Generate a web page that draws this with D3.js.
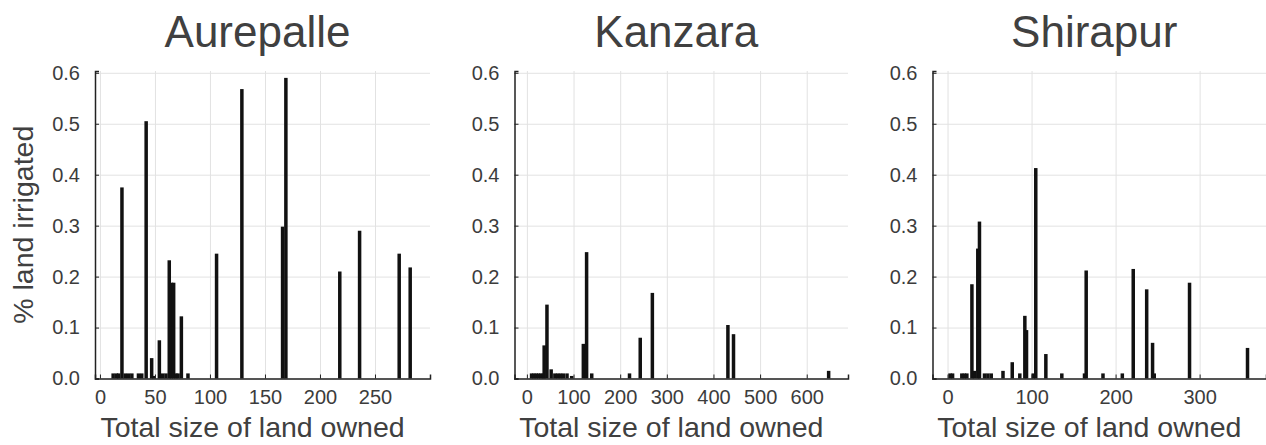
<!DOCTYPE html>
<html>
<head>
<meta charset="utf-8">
<script src="https://cdn.jsdelivr.net/npm/d3@7"></script>
<style>
  body { margin: 0; background: #fff; }
  svg { display: block; font-family: "Liberation Sans", Arial, sans-serif; }
  .grid line { stroke: #e2e2e2; stroke-width: 1; }
  .grid path { display: none; }
  .tick text { fill: #3c3c3c; }
</style>
</head>
<body>
<svg id="chart" width="1266" height="445"></svg>
<script>
// [land owned, share irrigated]
const aurepalle = [
  [12, 0.01], [15, 0.01], [17, 0.01], [20, 0.375], [23, 0.01], [26, 0.01], [29, 0.01],
  [35, 0.01], [38, 0.01], [42, 0.505], [47, 0.04], [49, 0.005], [54, 0.075], [57, 0.01],
  [60, 0.01], [63, 0.232], [65, 0.188], [67, 0.188], [69, 0.01], [71, 0.01], [74, 0.122],
  [80, 0.01], [106, 0.245], [129, 0.568], [166, 0.298], [169, 0.59], [218, 0.21],
  [236, 0.29], [272, 0.245], [282, 0.218]
];
const kanzara = [
  [10, 0.01], [15, 0.01], [20, 0.01], [25, 0.01], [30, 0.01], [35, 0.01], [37, 0.065],
  [43, 0.145], [52, 0.018], [60, 0.01], [66, 0.01], [72, 0.01], [78, 0.01], [86, 0.01],
  [96, 0.005], [121, 0.068], [128, 0.248], [139, 0.01], [220, 0.01], [243, 0.08],
  [269, 0.168], [431, 0.105], [443, 0.087], [647, 0.015]
];
const shirapur = [
  [3, 0.01], [6, 0.01], [17, 0.01], [20, 0.01], [23, 0.01], [29, 0.185], [32, 0.015],
  [36, 0.255], [38, 0.308], [44, 0.01], [48, 0.01], [52, 0.01], [66, 0.015], [77, 0.032],
  [86, 0.01], [92, 0.123], [94, 0.095], [102, 0.01], [105, 0.413], [117, 0.048],
  [136, 0.01], [163, 0.01], [165, 0.212], [185, 0.01], [208, 0.01], [221, 0.215],
  [237, 0.175], [244, 0.07], [246, 0.01], [288, 0.188], [357, 0.06]
];

const titles = ["Aurepalle", "Kanzara", "Shirapur"];
const xTicksA = [0, 50, 100, 150, 200, 250];
const xTicksK = [0, 100, 200, 300, 400, 500, 600];
const xTicksS = [0, 100, 200, 300];
const yTicks = [0, 0.1, 0.2, 0.3, 0.4, 0.5, 0.6];

const panels = [
  { title: titles[0], data: aurepalle, ticks: xTicksA, xlim: [-4.5, 300], left: 95, right: 430, ylabel: true },
  { title: titles[1], data: kanzara, ticks: xTicksK, xlim: [-26.6, 688.5], left: 514.5, right: 848 },
  { title: titles[2], data: shirapur, ticks: xTicksS, xlim: [-17.9, 379], left: 932.5, right: 1266 }
];

const plotTop = 71, plotBottom = 378.5;
const barW = 3.5;
const svg = d3.select("#chart");
const y = d3.scaleLinear().domain([0, 0.6035]).range([plotBottom, plotTop]);

panels.forEach((p) => {
  const x = d3.scaleLinear().domain(p.xlim).range([p.left, p.right]);
  const w = p.right - p.left;
  const g = svg.append("g");

  // grid
  g.append("g").attr("class", "grid").attr("transform", `translate(0,${plotTop})`)
    .call(d3.axisBottom(x).tickValues(p.ticks).tickSize(plotBottom - plotTop).tickFormat(""));
  g.append("g").attr("class", "grid").attr("transform", `translate(${p.left},0)`)
    .call(d3.axisRight(y).tickValues(yTicks).tickSize(w).tickFormat(""));

  // bars
  g.append("g").selectAll("rect").data(p.data).join("rect")
    .attr("x", (d) => x(d[0]) - barW / 2)
    .attr("width", barW)
    .attr("y", (d) => y(d[1]))
    .attr("height", (d) => y(0) - y(d[1]))
    .attr("fill", "#111");

  // axes with short inward ticks
  const ax = g.append("g").attr("transform", `translate(0,${plotBottom})`)
    .call(d3.axisBottom(x).tickValues(p.ticks).tickSize(-4).tickPadding(10).tickFormat(d3.format("d")));
  ax.select(".domain").attr("stroke", "#222").attr("stroke-width", 1.5);
  ax.selectAll(".tick line").attr("stroke", "#222");
  ax.selectAll("text").attr("font-size", 20).attr("dy", "0.75em");

  const ay = g.append("g").attr("transform", `translate(${p.left},0)`)
    .call(d3.axisLeft(y).tickValues(yTicks).tickSize(-4).tickPadding(15).tickFormat(d3.format(".1f")));
  ay.select(".domain").attr("stroke", "#222").attr("stroke-width", 1.5);
  ay.selectAll(".tick line").attr("stroke", "#222");
  ay.selectAll("text").attr("font-size", 20);

  const cx = p.left + w / 2 - 5;
  g.append("text").attr("x", cx).attr("y", 47).attr("text-anchor", "middle")
    .attr("font-size", 44).attr("fill", "#404040").text(p.title);
  g.append("text").attr("x", cx - 5).attr("y", 437).attr("text-anchor", "middle")
    .attr("font-size", 28.5).attr("fill", "#404040").text("Total size of land owned");
  if (p.ylabel) {
    g.append("text").attr("transform", `translate(33,${(plotTop + plotBottom) / 2}) rotate(-90)`)
      .attr("text-anchor", "middle").attr("font-size", 28.5).attr("fill", "#404040")
      .text("% land irrigated");
  }
});
</script>
</body>
</html>
